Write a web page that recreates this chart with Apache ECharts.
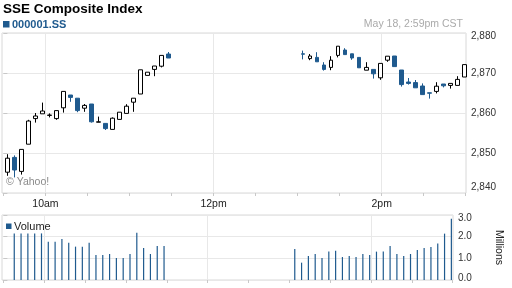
<!DOCTYPE html>
<html>
<head>
<meta charset="utf-8">
<script src="https://cdn.jsdelivr.net/npm/echarts@6/dist/echarts.min.js"></script>
<style>
html,body{margin:0;padding:0;background:#fff;}
#chart{width:512px;height:288px;}
</style>
</head>
<body>
<div id="chart"></div>
<script>
const titleText = 'SSE Composite Index';
const symbolText = '000001.SS';
const stampText = 'May 18, 2:59pm CST';
const creditText = '\u00a9 Yahoo!';
const volumeLabel = 'Volume';
const volumeUnit = 'Millions';

const times = ['9:33','9:38','9:43','9:48','9:53','9:58','10:03','10:08','10:13','10:18','10:23','10:28',
  '10:33','10:38','10:43','10:48','10:53','10:58','11:03','11:08','11:13','11:18','11:23','11:28',
  '13:04','13:09','13:14','13:19','13:24','13:29','13:34','13:39','13:44','13:49','13:54','13:59',
  '14:04','14:09','14:14','14:19','14:24','14:29','14:34','14:39','14:44','14:49','14:54','14:59'];
const opens = [2845.2,2848.9,2845.4,2852.2,2858.6,2859.8,2859.4,2858.6,2861.3,2864.5,2863.7,2861.2,
  2862.25,2857.7,2857.4,2855.9,2858.4,2859.9,2862.7,2864.75,2869.4,2870.9,2871.7,2874.75,
  2874.8,2873.6,2873.9,2872.0,2871.4,2874.4,2875.75,2874.8,2873.9,2870.7,2870.9,2868.8,
  2873.2,2874.25,2870.75,2867.75,2867.6,2866.75,2865.05,2865.4,2867.25,2866.9,2866.9,2869.0];
const closes = [2848.7,2845.75,2850.9,2858.0,2859.25,2860.5,2859.5,2860.6,2865.4,2863.9,2860.6,2861.9,
  2857.8,2857.8,2856.1,2858.7,2860.2,2861.7,2863.7,2870.8,2870.2,2871.75,2874.4,2873.75,
  2874.7,2874.25,2872.8,2870.9,2873.2,2876.7,2874.6,2873.75,2871.3,2871.4,2869.8,2872.4,
  2874.2,2871.6,2867.1,2867.4,2866.3,2864.6,2864.95,2866.7,2866.8,2867.4,2868.4,2872.1];
const lows = [2844.3,2843.9,2844.6,2852.2,2857.6,2859.8,2858.9,2858.3,2860.1,2862.8,2860.2,2860.3,
  2857.6,2857.7,2855.75,2855.9,2858.4,2859.9,2860.3,2864.75,2869.4,2869.2,2871.4,2873.75,
  2873.4,2873.2,2872.8,2870.6,2870.7,2873.9,2874.6,2873.3,2871.3,2870.7,2868.6,2868.3,
  2872.8,2871.6,2866.6,2867.1,2866.3,2864.6,2863.6,2864.9,2866.4,2866.1,2866.9,2869.0];
const highs = [2849.7,2849.4,2850.9,2858.3,2860.0,2862.6,2859.9,2860.6,2865.4,2864.5,2863.7,2862.25,
  2862.25,2859.1,2857.4,2858.9,2860.2,2862.2,2863.7,2870.8,2870.2,2871.75,2874.4,2875.25,
  2875.6,2874.75,2875.2,2872.7,2874.2,2876.7,2876.2,2874.8,2873.9,2872.7,2870.9,2872.4,
  2874.2,2874.25,2870.75,2868.75,2868.25,2867.4,2865.05,2867.7,2867.25,2867.4,2869.2,2872.1];
const volumes = [null,2.15,2.15,2.15,2.15,2.15,1.77,1.77,1.89,1.72,1.54,1.54,
  1.72,1.15,1.15,1.2,1.02,1.02,1.2,2.18,1.48,1.2,1.57,1.57,
  1.43,0.8,1.11,1.2,1.02,1.31,1.35,1.06,1.11,1.06,1.2,1.15,
  1.31,1.31,1.57,1.2,1.11,1.2,1.38,1.48,1.52,1.68,2.14,2.83];

const axisTickTimes = ['9:30','10:00','10:30','11:00','11:30','12:00','12:30','13:00','13:30','14:00','14:30','15:00'];
const axisLabelTimes = ['10:00','12:00','14:00'];
const axisLabelTexts = ['10am','12pm','2pm'];
const priceTicks = [2840, 2880, 10];
const volumeTicks = [0, 3, 1];

function toMin(t) { const p = t.split(':'); return (+p[0]) * 60 + (+p[1]) - 570; }
const tickVals = axisTickTimes.map(toMin);
const labelVals = axisLabelTimes.map(toMin);
const labelMap = {};
labelVals.forEach((v, i) => { labelMap[v] = axisLabelTexts[i]; });

const candleData = times.map((t, i) => [toMin(t), opens[i], closes[i], lows[i], highs[i]]);
const volData = times.map((t, i) => [toMin(t), volumes[i]]);

const FONT = '"Liberation Sans", Arial, sans-serif';
const BLUE = '#1f5a8e';
const XMIN = -1, XMAX = 330.2;

function xAxisBase(grid, withLabels) {
  return {
    type: 'value', gridIndex: grid, min: XMIN, max: XMAX,
    axisLine: { show: false },
    axisTick: { show: true, customValues: tickVals, length: 3, lineStyle: { color: '#c8c8c8' } },
    axisLabel: withLabels ? {
      show: true, customValues: labelVals, formatter: v => labelMap[v] || '',
      fontFamily: FONT, fontSize: 10.5, color: '#222', margin: 6
    } : { show: false },
    splitLine: { show: false }
  };
}
function xAxisGrid(grid) {
  return {
    type: 'value', gridIndex: grid, min: XMIN, max: XMAX,
    axisLine: { show: false },
    axisTick: { show: false, customValues: labelVals },
    axisLabel: { show: false },
    splitLine: { show: true, lineStyle: { color: '#e8e8e8', width: 1 } }
  };
}
function fmtComma(v) { return String(v).replace(/\B(?=(\d{3})+(?!\d))/g, ','); }

const option = {
  animation: false,
  backgroundColor: '#fff',
  title: {
    text: titleText, left: 3, top: 2, padding: 0,
    textStyle: { fontFamily: FONT, fontSize: 13.5, fontWeight: 'bold', color: '#000' }
  },
  grid: [
    { left: 2, right: 46, top: 33, height: 160, show: true, borderColor: '#d8d8d8', borderWidth: 1 },
    { left: 2, right: 46, top: 215, height: 65, show: true, borderColor: '#d8d8d8', borderWidth: 1 }
  ],
  xAxis: [xAxisBase(0, true), xAxisBase(1, false), xAxisGrid(0), xAxisGrid(1)],
  yAxis: [
    {
      type: 'value', gridIndex: 0, position: 'right',
      min: priceTicks[0], max: priceTicks[1], interval: priceTicks[2],
      axisLine: { show: false },
      axisTick: { show: true, length: 4, lineStyle: { color: '#c8c8c8' } },
      axisLabel: {
        margin: 5, fontFamily: FONT, fontSize: 10, color: '#333',
        formatter: v => v === priceTicks[1] ? '{t|' + fmtComma(v) + '}' : (v === priceTicks[0] ? '{b|' + fmtComma(v) + '}' : fmtComma(v)),
        rich: {
          t: { fontFamily: FONT, fontSize: 10, color: '#333', padding: [6, 0, 0, 0] },
          b: { fontFamily: FONT, fontSize: 10, color: '#333', padding: [0, 0, 12, 0] }
        }
      },
      splitLine: { show: true, lineStyle: { color: '#e8e8e8' } }
    },
    {
      type: 'value', gridIndex: 1, position: 'right',
      min: volumeTicks[0], max: volumeTicks[1], interval: volumeTicks[2],
      name: volumeUnit, nameLocation: 'middle', nameRotate: -90, nameGap: 40,
      nameTextStyle: { fontFamily: FONT, fontSize: 10.5, color: '#222' },
      axisLine: { show: false },
      axisTick: { show: true, length: 4, lineStyle: { color: '#c8c8c8' } },
      axisLabel: {
        margin: 5, fontFamily: FONT, fontSize: 10, color: '#333',
        formatter: v => v === volumeTicks[1] ? '{t|' + v.toFixed(1) + '}' : (v === volumeTicks[0] ? '{b|' + v.toFixed(1) + '}' : v.toFixed(1)),
        rich: {
          t: { fontFamily: FONT, fontSize: 10, color: '#333', padding: [6, 0, 0, 0] },
          b: { fontFamily: FONT, fontSize: 10, color: '#333', padding: [0, 0, 4, 0] }
        }
      },
      splitLine: { show: true, lineStyle: { color: '#e8e8e8' } }
    }
  ],
  series: [
    {
      name: symbolText, type: 'candlestick', xAxisIndex: 0, yAxisIndex: 0,
      data: candleData, barWidth: 4,
      encode: { x: 0, y: [1, 2, 3, 4] },
      itemStyle: { color: '#ffffff', color0: BLUE, borderColor: '#000000', borderColor0: BLUE, borderWidth: 1 }
    },
    {
      name: volumeLabel, type: 'bar', xAxisIndex: 1, yAxisIndex: 1,
      data: volData, barWidth: 1.2,
      itemStyle: { color: BLUE }
    }
  ],
  graphic: [
    { type: 'rect', shape: { x: 3, y: 21, width: 6.5, height: 6.5 }, style: { fill: BLUE } },
    { type: 'text', x: 12, y: 24.5, style: { text: symbolText, fontFamily: FONT, fontSize: 11, fontWeight: 'bold', fill: BLUE, verticalAlign: 'middle' } },
    { type: 'text', x: 463, y: 24.5, style: { text: stampText, fontFamily: FONT, fontSize: 10.5, fill: '#aaaaaa', align: 'right', verticalAlign: 'middle' } },
    { type: 'text', x: 6, y: 182.5, z: 10, style: { text: creditText, fontFamily: FONT, fontSize: 10.5, fill: '#8a8a8a', verticalAlign: 'middle' } },
    { type: 'rect', shape: { x: 6, y: 223.5, width: 5.5, height: 5.5 }, style: { fill: BLUE }, z: 10 },
    { type: 'text', x: 14, y: 227, z: 10, style: { text: volumeLabel, fontFamily: FONT, fontSize: 11, fill: '#222', verticalAlign: 'middle' } }
  ]
};

const chart = echarts.init(document.getElementById('chart'), null, { renderer: 'canvas' });
chart.setOption(option);
</script>
</body>
</html>
